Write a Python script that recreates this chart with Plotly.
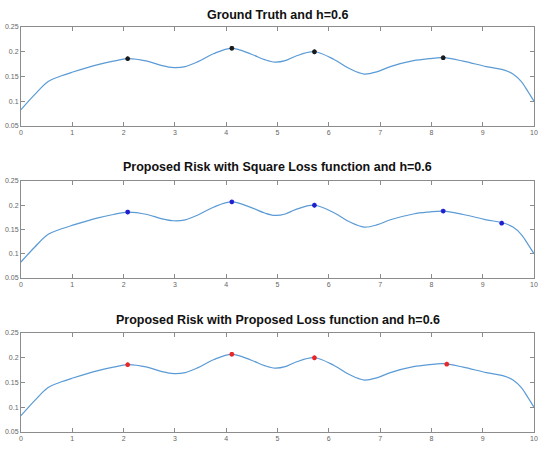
import plotly.graph_objects as go

# Curve - identical in all three panels
curve_x = [0.0, 0.27, 0.53, 0.75, 1.01, 1.5, 1.8, 2.08, 2.46, 2.75, 2.98, 3.2, 3.45, 3.75, 4.11,
           4.49, 4.75, 4.95, 5.15, 5.35, 5.72, 6.11, 6.4, 6.69, 6.95, 7.2, 7.65, 7.95, 8.23, 8.62,
           9.07, 9.39, 9.59, 9.75, 9.88, 10.0]
curve_y = [0.083, 0.114, 0.140, 0.150, 0.159, 0.174, 0.181, 0.186, 0.181, 0.172, 0.168, 0.170,
           0.180, 0.196, 0.207, 0.195, 0.184, 0.179, 0.182, 0.191, 0.200, 0.184, 0.166, 0.155,
           0.160, 0.170, 0.182, 0.186, 0.188, 0.181, 0.170, 0.164, 0.155, 0.140, 0.120, 0.100]

truth_peaks_x = [2.08, 4.11, 5.72, 8.23]
truth_peaks_y = [0.186, 0.207, 0.200, 0.188]

square_peaks_x = [2.08, 4.11, 5.72, 8.23, 9.37]
square_peaks_y = [0.186, 0.207, 0.200, 0.188, 0.163]

proposed_peaks_x = [2.08, 4.11, 5.72, 8.30]
proposed_peaks_y = [0.186, 0.207, 0.200, 0.187]

titles = ["Ground Truth and h=0.6",
          "Proposed Risk with Square Loss function and h=0.6",
          "Proposed Risk with Proposed Loss function and h=0.6"]
marker_colors = ["#1a1a1a", "#1f1fd0", "#e8262a"]
peaks = [(truth_peaks_x, truth_peaks_y), (square_peaks_x, square_peaks_y),
         (proposed_peaks_x, proposed_peaks_y)]

x_ticks = list(range(0, 11))
y_ticks = [0.05, 0.1, 0.15, 0.2, 0.25]
y_tick_text = ["0.05", "0.1", "0.15", "0.2", "0.25"]

W, H = 542, 450
ml, mr, mt, mb = 21, 4, 27, 18
ph = H - mt - mb
# panel pixel extents (top, bottom)
panels_px = [(27, 126), (181, 278), (333, 432)]
title_px = [15, 167, 320]

fig = go.Figure()
for i in range(3):
    xa = "x" if i == 0 else f"x{i+1}"
    ya = "y" if i == 0 else f"y{i+1}"
    fig.add_trace(go.Scatter(x=curve_x, y=curve_y, mode="lines",
                             line=dict(color="#5b9bd5", width=1.2, shape="spline", smoothing=1.0),
                             xaxis=xa, yaxis=ya, showlegend=False, hoverinfo="skip"))
    px_, py_ = peaks[i]
    fig.add_trace(go.Scatter(x=px_, y=py_, mode="markers",
                             marker=dict(symbol="asterisk-open", size=4, color=marker_colors[i],
                                         line=dict(color=marker_colors[i], width=1.4)),
                             xaxis=xa, yaxis=ya, showlegend=False, hoverinfo="skip"))

layout = dict(width=W, height=H, margin=dict(l=ml, r=mr, t=mt, b=mb),
              paper_bgcolor="white", plot_bgcolor="white", showlegend=False, hovermode=False)
axis_common = dict(showgrid=False, zeroline=False, showline=True, linecolor="#8c8c8c", linewidth=1,
                   mirror="ticks", ticks="inside", ticklen=4, tickcolor="#8c8c8c",
                   tickfont=dict(family="Liberation Sans, Arial, sans-serif", size=7, color="#666666"))
annotations = []
for i, (top, bot) in enumerate(panels_px):
    d0 = (H - mb - bot) / ph
    d1 = (H - mb - top) / ph
    xk = "xaxis" if i == 0 else f"xaxis{i+1}"
    yk = "yaxis" if i == 0 else f"yaxis{i+1}"
    ya = "y" if i == 0 else f"y{i+1}"
    xa = "x" if i == 0 else f"x{i+1}"
    layout[xk] = dict(axis_common, domain=[0, 1], range=[0, 10], tickvals=x_ticks,
                      ticktext=[str(v) for v in x_ticks], anchor=ya)
    layout[yk] = dict(axis_common, domain=[d0, d1], range=[0.05, 0.25], tickvals=y_ticks,
                      ticktext=y_tick_text, anchor=xa)
    annotations.append(dict(text=f"<b>{titles[i]}</b>", xref="paper", yref="paper",
                            x=0.5, y=(H - mb - title_px[i]) / ph, xanchor="center", yanchor="middle",
                            showarrow=False,
                            font=dict(family="Liberation Sans, Arial, sans-serif",
                                      size=12.5, color="#111111")))
layout["annotations"] = annotations
fig.update_layout(**layout)
fig.write_html("out.html", config={"displayModeBar": False, "staticPlot": True},
               post_script="document.body.style.margin='0px';document.body.style.overflow='hidden';")
